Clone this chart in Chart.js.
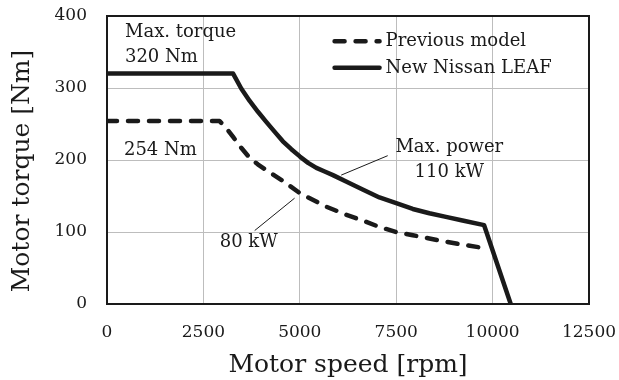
<!DOCTYPE html>
<html>
<head>
<meta charset="utf-8">
<script src="https://cdn.jsdelivr.net/npm/chart.js@4.4.1/dist/chart.umd.min.js"></script>
<style>
  html, body { margin: 0; padding: 0; background: #fff; }
  #wrap { width: 619px; height: 380px; }
</style>
</head>
<body>
<div id="wrap"><canvas id="c"></canvas></div>
<script>
// モータ特性曲線：新型 LEAF と旧型のトルク－回転数

const SPEED_NEW = [0, 3270, 3485, 3700, 3915, 4130, 4350, 4560, 4780, 5000, 5215, 5430, 5645, 5860,
  6200, 6630, 7065, 7500, 7930, 8360, 8790, 9220, 9780, 10470];
const TORQUE_NEW = [320, 320, 299, 282, 267, 253, 239, 226, 215, 205, 196, 189, 184, 179,
  170, 159, 148, 140, 132, 126, 121, 116, 109.5, 0];

const SPEED_PREV = [0, 2920, 3100, 3270, 3480, 3700, 3910, 4130, 4560, 5000, 5690, 6200, 6630,
  7065, 7500, 7930, 8360, 8790, 9265, 9870];
const TORQUE_PREV = [254, 254, 244, 232, 217, 203, 194, 186, 171, 154, 135, 124, 116,
  107, 100, 95.5, 91, 86.5, 82, 77];

const SPEED_TICKS = [0, 2500, 5000, 7500, 10000, 12500];
const TORQUE_TICKS = [0, 100, 200, 300, 400];

const SERIES_NAMES = ['Previous model', 'New Nissan LEAF'];

const INK = '#1a1a1a';
const SERIF = '"DejaVu Serif", "Liberation Serif", serif';

const pts = (xs, ys) => xs.map((x, i) => ({ x, y: ys[i] }));

// 注記（データ座標で配置）
const notes = [
  { text: 'Max. torque', x: 466, y: 378, align: 'left' },
  { text: '320 Nm', x: 466, y: 342, align: 'left' },
  { text: '254 Nm', x: 440, y: 214, align: 'left' },
  { text: '80 kW', x: 3675, y: 85, align: 'center' },
  { text: 'Max. power', x: 8877, y: 218, align: 'center' },
  { text: '110 kW', x: 8877, y: 183, align: 'center' },
];
const leaders = [
  [6074, 179, 7280, 206],
  [4865, 147, 3830, 102],
];

const framePlugin = {
  id: 'frame',
  beforeDatasetsDraw(chart) {
    const { ctx, chartArea: a } = chart;
    ctx.save();
    ctx.strokeStyle = INK;
    ctx.lineWidth = 2;
    ctx.strokeRect(a.left, a.top, a.right - a.left, a.bottom - a.top);
    // 縦軸タイトル（少し下寄せ）
    ctx.fillStyle = INK;
    ctx.font = '25px ' + SERIF;
    ctx.textAlign = 'center';
    ctx.textBaseline = 'middle';
    ctx.translate(22, (a.top + a.bottom) / 2 + 11);
    ctx.rotate(-Math.PI / 2);
    ctx.fillText('Motor torque [Nm]', 0, 0);
    ctx.restore();
  },
};

const notesPlugin = {
  id: 'notes',
  afterDatasetsDraw(chart) {
    const { ctx, scales: { x, y } } = chart;
    ctx.save();
    ctx.fillStyle = INK;
    ctx.font = '18px ' + SERIF;
    ctx.textBaseline = 'middle';
    notes.forEach((n) => {
      ctx.textAlign = n.align;
      ctx.fillText(n.text, x.getPixelForValue(n.x), y.getPixelForValue(n.y));
    });
    ctx.strokeStyle = INK;
    ctx.lineWidth = 1;
    leaders.forEach(([x1, y1, x2, y2]) => {
      ctx.beginPath();
      ctx.moveTo(x.getPixelForValue(x1), y.getPixelForValue(y1));
      ctx.lineTo(x.getPixelForValue(x2), y.getPixelForValue(y2));
      ctx.stroke();
    });

    // 凡例
    const lx0 = x.getPixelForValue(5850), lx1 = x.getPixelForValue(7120);
    const rows = [y.getPixelForValue(365), y.getPixelForValue(328)];
    chart.data.datasets.forEach((ds, i) => {
      ctx.beginPath();
      ctx.lineWidth = ds.borderWidth;
      ctx.lineCap = 'round';
      ctx.setLineDash(ds.borderDash || []);
      ctx.moveTo(lx0 + 2, rows[i]);
      ctx.lineTo(lx1 - 2, rows[i]);
      ctx.stroke();
      ctx.setLineDash([]);
      ctx.textAlign = 'left';
      ctx.fillText(ds.label, lx1 + 4, rows[i]);
    });
    ctx.restore();
  },
};

// 目盛ラベルのはみ出し分の余白を無効化し、layout.padding だけで配置する
function noOverflowPad(s) {
  s.paddingLeft = 0; s.paddingRight = 0; s.paddingTop = 0; s.paddingBottom = 0;
}

new Chart(document.getElementById('c'), {
  type: 'line',
  data: {
    datasets: [
      {
        label: SERIES_NAMES[0],
        data: pts(SPEED_PREV, TORQUE_PREV),
        borderColor: INK, borderWidth: 4.5, borderDash: [10, 11], borderCapStyle: 'round',
        borderJoinStyle: 'round', pointRadius: 0, tension: 0,
      },
      {
        label: SERIES_NAMES[1],
        data: pts(SPEED_NEW, TORQUE_NEW),
        borderColor: INK, borderWidth: 4.5, borderJoinStyle: 'round',
        pointRadius: 0, tension: 0,
      },
    ],
  },
  options: {
    responsive: true, maintainAspectRatio: false, animation: false,
    layout: { padding: { left: 0, right: 30, top: 16, bottom: 0 } },
    plugins: { legend: { display: false }, tooltip: { enabled: false } },
    scales: {
      x: {
        type: 'linear', min: 0, max: 12500,
        afterBuildTicks: (s) => { s.ticks = SPEED_TICKS.map((v) => ({ value: v })); },
        afterFit: (s) => { s.height = 76; noOverflowPad(s); },
        grid: { color: '#bdbdbd', lineWidth: 1, drawTicks: false },
        border: { display: false },
        ticks: { color: INK, font: { family: SERIF, size: 17 }, padding: 18, maxRotation: 0, callback: (v) => String(v) },
        title: { display: true, text: 'Motor speed [rpm]', color: INK, font: { family: SERIF, size: 25 }, padding: 0 },
      },
      y: {
        type: 'linear', min: 0, max: 400,
        afterBuildTicks: (s) => { s.ticks = TORQUE_TICKS.map((v) => ({ value: v })); },
        afterFit: (s) => { s.width = 107; noOverflowPad(s); },
        grid: { color: '#bdbdbd', lineWidth: 1, drawTicks: false },
        border: { display: false },
        ticks: { color: INK, font: { family: SERIF, size: 17 }, padding: 20, callback: (v) => String(v) },
        title: { display: false },
      },
    },
  },
  plugins: [framePlugin, notesPlugin],
});
</script>
</body>
</html>
